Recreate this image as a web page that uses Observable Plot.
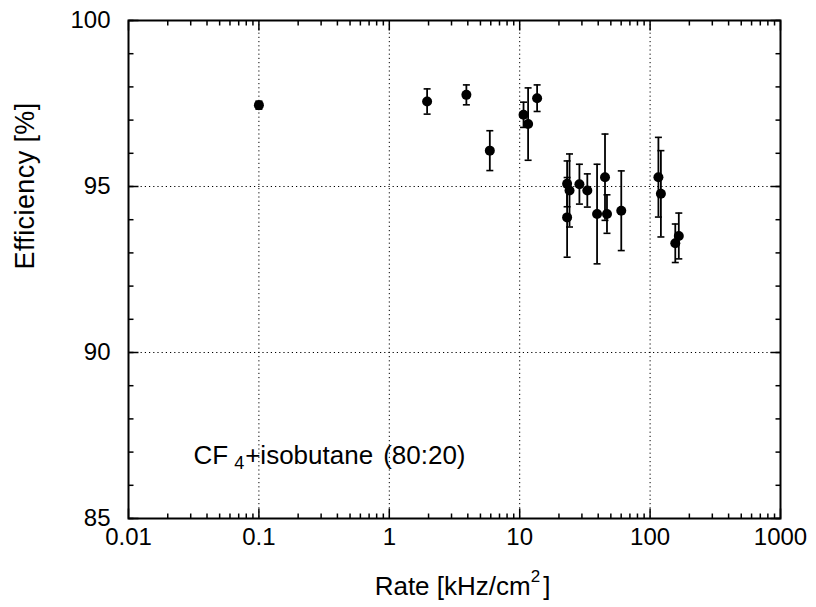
<!DOCTYPE html>
<html><head><meta charset="utf-8">
<script src="https://cdn.jsdelivr.net/npm/d3@7"></script>
<script src="https://cdn.jsdelivr.net/npm/@observablehq/plot@0.6"></script>
<style>
body{margin:0;background:#fff}
#chart{width:816px;height:607px}
</style>
</head><body><div id="chart"></div>
<script>
// ---- data ----
const rate       = [0.1, 1.95, 3.9, 5.9, 10.7, 11.6, 13.6, 23.1, 24.1, 23.1, 28.7, 33.0, 39.2, 45.1, 46.7, 60.1, 115.8, 121, 156, 166];
const efficiency = [97.45, 97.56, 97.76, 96.08, 97.16, 96.88, 97.66, 95.08, 94.88, 94.07, 95.07, 94.88, 94.17, 95.28, 94.17, 94.27, 95.28, 94.78, 93.29, 93.51];
const errorBar   = [0.12, 0.38, 0.3, 0.6, 0.38, 1.09, 0.4, 0.69, 1.1, 1.2, 0.6, 0.5, 1.5, 1.3, 0.58, 1.2, 1.2, 1.3, 0.58, 0.69];

const xTicks = [0.01, 0.1, 1, 10, 100, 1000];
const xTickLabels = ["0.01", "0.1", "1", "10", "100", "1000"];
const xGrid = [0.1, 1, 10, 100];
const yTicks = [85, 90, 95, 100];
const yGrid = [90, 95];
const xLabel = "Rate [kHz/cm2]";
const yLabel = "Efficiency [%]";
const annotation = "CF4+isobutane (80:20)";

const data = rate.map((r, i) => ({rate: r, eff: efficiency[i], err: errorBar[i]}));
const xMinor = d3.range(-2, 3).flatMap(e => d3.range(2, 10).map(m => m * Math.pow(10, e)));
const yMinor = d3.range(85, 101);

const seg = (x0, y0, x1, y1) => ({draw(ctx) { ctx.moveTo(x0, y0); ctx.lineTo(x1, y1); }});
const FONT = "'Liberation Sans', Arial, Helvetica, sans-serif";
const tickStyle = {fill: "none", stroke: "black", strokeWidth: 1.5};

const chart = Plot.plot({
  width: 816, height: 607,
  marginLeft: 128, marginRight: 36, marginTop: 20, marginBottom: 89,
  style: {fontFamily: FONT, fontSize: "24px", color: "black", background: "white"},
  x: {type: "log", domain: [0.01, 1000]},
  y: {domain: [85, 100]},
  marks: [
    // dotted grid
    Plot.ruleX(xGrid, {stroke: "black", strokeWidth: 1, strokeDasharray: "1.2,3"}),
    Plot.ruleY(yGrid, {stroke: "black", strokeWidth: 1, strokeDasharray: "1.2,3"}),
    // inward ticks: bottom / top
    Plot.dot(xMinor, {x: d => d, y: () => 85, symbol: seg(0, 0, 0, -5), ...tickStyle}),
    Plot.dot(xMinor, {x: d => d, y: () => 100, symbol: seg(0, 0, 0, 5), ...tickStyle}),
    Plot.dot(xTicks, {x: d => d, y: () => 85, symbol: seg(0, 0, 0, -10), ...tickStyle}),
    Plot.dot(xTicks, {x: d => d, y: () => 100, symbol: seg(0, 0, 0, 10), ...tickStyle}),
    // inward ticks: left / right
    Plot.dot(yMinor, {y: d => d, x: () => 0.01, symbol: seg(0, 0, 5, 0), ...tickStyle}),
    Plot.dot(yMinor, {y: d => d, x: () => 1000, symbol: seg(0, 0, -5, 0), ...tickStyle}),
    Plot.dot(yTicks, {y: d => d, x: () => 0.01, symbol: seg(0, 0, 10, 0), ...tickStyle}),
    Plot.dot(yTicks, {y: d => d, x: () => 1000, symbol: seg(0, 0, -10, 0), ...tickStyle}),
    Plot.frame({stroke: "black", strokeWidth: 2}),
    // tick labels
    Plot.axisX(xTicks, {tickSize: 0, tickPadding: 9, label: null, fontSize: 24,
      tickFormat: d => xTickLabels[xTicks.indexOf(d)]}),
    Plot.axisY(yTicks, {tickSize: 0, tickPadding: 18, label: null, fontSize: 24}),
    // error bars
    Plot.ruleX(data, {x: "rate", y1: d => d.eff - d.err, y2: d => d.eff + d.err, stroke: "black", strokeWidth: 1.8}),
    Plot.dot(data, {x: "rate", y: d => d.eff + d.err, symbol: seg(-3.5, 0, 3.5, 0), fill: "none", stroke: "black", strokeWidth: 1.6}),
    Plot.dot(data, {x: "rate", y: d => d.eff - d.err, symbol: seg(-3.5, 0, 3.5, 0), fill: "none", stroke: "black", strokeWidth: 1.6}),
    // points
    Plot.dot(data, {x: "rate", y: "eff", r: 5, fill: "black", stroke: "none"}),
    // axis titles and annotation
    Plot.text([xLabel], {frameAnchor: "bottom", dx: 8, dy: 76, lineAnchor: "bottom", fontSize: 26}),
    Plot.text([yLabel], {frameAnchor: "left", dx: -95, rotate: -90, lineAnchor: "bottom", fontSize: 27}),
    Plot.text([annotation], {frameAnchor: "bottom-left", dx: 65, dy: -55, textAnchor: "start", lineAnchor: "bottom", fontSize: 26})
  ]
});
document.getElementById("chart").appendChild(chart);

// superscript / subscript styling of the two compound labels
const svg = d3.select(chart);
svg.selectAll("text").each(function () {
  const t = d3.select(this);
  const s = t.text();
  if (s === xLabel) {
    t.text(null);
    t.append("tspan").text("Rate [kHz/cm");
    t.append("tspan").attr("dy", -13).attr("font-size", 17).text("2");
    t.append("tspan").attr("dy", 13).attr("dx", 3).text("]");
  } else if (s === yLabel) {
    t.attr("letter-spacing", "0.4px");
  } else if (s === annotation) {
    t.text(null);
    t.append("tspan").text("CF");
    t.append("tspan").attr("dx", 6).attr("dy", 5).attr("font-size", 18).text("4");
    t.append("tspan").attr("dy", -5).attr("dx", 1).text("+isobutane");
    t.append("tspan").attr("dx", 10).text("(80:20)");
  }
});
</script>
</body></html>
